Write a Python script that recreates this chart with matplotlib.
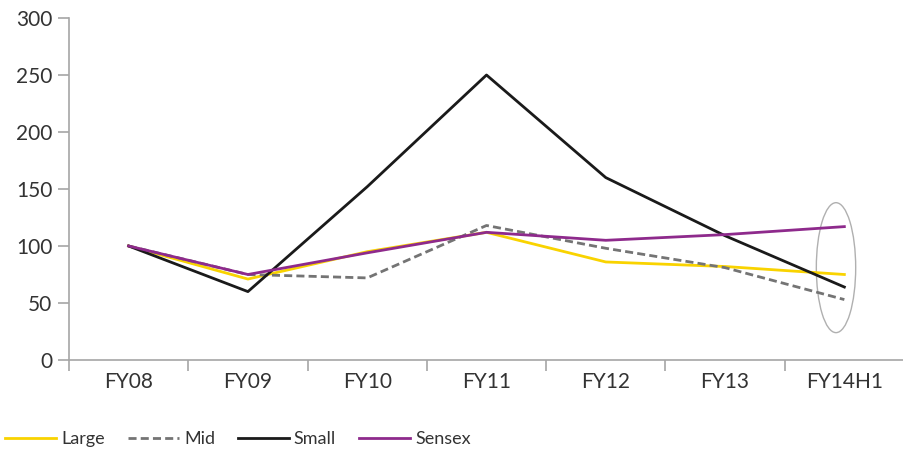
import matplotlib.pyplot as plt
from matplotlib.patches import Ellipse

# Indexed performance (FY08 = 100)
years = ['FY08', 'FY09', 'FY10', 'FY11', 'FY12', 'FY13', 'FY14H1']
large = [100, 71, 95, 112, 86, 82, 75]
mid = [100, 75, 72, 118, 98, 81, 53]
small = [100, 60, 152, 250, 160, 109, 64]
sensex = [100, 75, 94, 112, 105, 110, 117]

plt.rcParams['font.family'] = ['Lato', 'DejaVu Sans']
TXT = '#333333'
AX = '#a6a6a6'

fig = plt.figure(figsize=(9.04, 4.5), dpi=100)
ax = fig.add_axes([69 / 904, 0.2, 835 / 904, 0.76])

x = list(range(len(years)))
ax.plot(x, large, color='#f9d300', lw=2.0, label='Large')
ax.plot(x, mid, color='#747474', lw=2.0, ls=(0, (2.9, 1.5)), label='Mid')
ax.plot(x, small, color='#1a1a1a', lw=2.0, label='Small')
ax.plot(x, sensex, color='#8e2a8c', lw=2.0, label='Sensex')

# highlight circle around the last period
ax.add_patch(Ellipse((5.93, 81), 0.33, 114, fill=False, ec='#b0b0b0', lw=1.0))

ax.set_xlim(-0.5, len(years) - 0.5)
ax.set_ylim(0, 300)
ax.set_yticks(range(0, 301, 50))
ax.set_xticks(x)
ax.set_xticklabels(years)
ax.set_xticks([i - 0.5 for i in range(len(years) + 1)], minor=True)

for s in ['top', 'right']:
    ax.spines[s].set_visible(False)
for s in ['left', 'bottom']:
    ax.spines[s].set_color(AX)
    ax.spines[s].set_linewidth(1.2)

ax.tick_params(axis='y', colors=AX, labelcolor=TXT, labelsize=15, length=8, width=1.2, pad=4)
ax.tick_params(axis='x', which='major', length=0, labelcolor=TXT, labelsize=15, pad=9)
ax.tick_params(axis='x', which='minor', colors=AX, length=8, width=1.2)

fig.legend(loc='lower left', bbox_to_anchor=(-0.012, -0.03), ncol=4, frameon=False,
           fontsize=13, handlelength=2.82, columnspacing=1.27, handletextpad=0.28,
           labelcolor=TXT)

fig.savefig('out.png', dpi=100)
